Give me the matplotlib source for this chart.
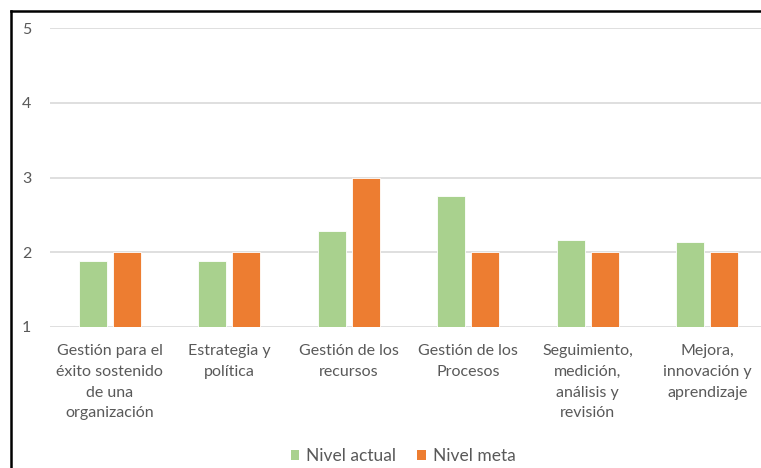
import matplotlib
matplotlib.use("Agg")
import matplotlib.pyplot as plt
import numpy as np
from matplotlib.patches import Patch
from matplotlib.lines import Line2D

categories = [
    "Gestión para el\néxito sostenido\nde una\norganización",
    "Estrategia y\npolítica",
    "Gestión de los\nrecursos",
    "Gestión de los\nProcesos",
    "Seguimiento,\nmedición,\nanálisis y\nrevisión",
    "Mejora,\ninnovación y\naprendizaje",
]
nivel_actual = [1.88, 1.88, 2.29, 2.75, 2.17, 2.14]
nivel_meta = [2, 2, 3, 2, 2, 2]
series_names = ["Nivel actual", "Nivel meta"]
y_ticks = [1, 2, 3, 4, 5]

GREEN = "#A9D18E"
ORANGE = "#ED7D31"
TEXT = "#595959"
GRID = "#D9D9D9"

plt.rcParams["font.family"] = ["Lato", "DejaVu Sans"]

W, H = 761, 468
fig = plt.figure(figsize=(W / 100, H / 100), dpi=100)
ax = fig.add_axes([50 / W, 1 - 327 / H, 717 / W, 299 / H])

x = np.arange(len(categories))
bw = 0.234
off = 0.143
base = 1
ax.bar(x - off, np.array(nivel_actual) - base, bw, bottom=base, color=GREEN,
       edgecolor="white", linewidth=0.6, zorder=3)
ax.bar(x + off, np.array(nivel_meta) - base, bw, bottom=base, color=ORANGE,
       edgecolor="white", linewidth=0.6, zorder=3)

ax.set_xlim(-0.5, len(categories) - 0.5)
ax.set_ylim(1, 5)
ax.set_yticks(y_ticks)
ax.set_yticklabels([str(v) for v in y_ticks])
ax.set_xticks(x)
ax.set_xticklabels(categories, linespacing=1.63)
ax.yaxis.grid(True, color=GRID, linewidth=1.2, zorder=0)
ax.set_axisbelow(True)
for s in ax.spines.values():
    s.set_visible(False)
ax.tick_params(axis="both", length=0, labelsize=11.5, colors=TEXT)
ax.tick_params(axis="y", pad=13.5)
ax.tick_params(axis="x", pad=12)

handles = [Patch(facecolor=GREEN, edgecolor="none"),
           Patch(facecolor=ORANGE, edgecolor="none")]
fig.legend(handles, series_names, loc="center", bbox_to_anchor=(403 / W, 1 - 456 / H),
           ncol=2, frameon=False, fontsize=12.5, labelcolor=TEXT,
           handlelength=0.5, handleheight=0.5, handletextpad=0.4, columnspacing=1.2)

# outer frame (left and top edges)
fig.add_artist(Line2D([10.5 / W, 10.5 / W], [0, 1 - 10.5 / H], color="black",
                      linewidth=1.8, transform=fig.transFigure))
fig.add_artist(Line2D([10.5 / W, 1], [1 - 10.5 / H, 1 - 10.5 / H], color="black",
                      linewidth=1.8, transform=fig.transFigure))

fig.savefig("out.png", dpi=100, facecolor="white")
